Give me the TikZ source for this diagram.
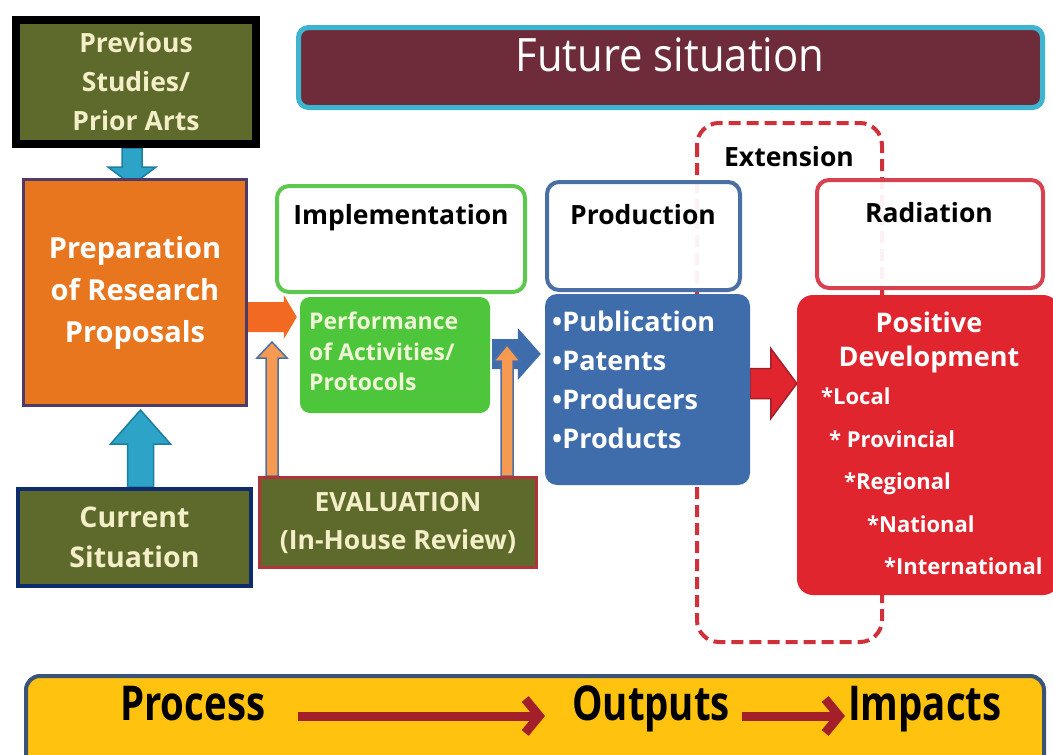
\documentclass[tikz,border=0pt]{standalone}
\usepackage{fontspec}
\setmainfont{Open Sans}
\usetikzlibrary{calc,arrows.meta}
\pgfdeclarelayer{bg}
\pgfsetlayers{bg,main}
\definecolor{cOlive}{HTML}{5D6A2C}
\definecolor{cCream}{HTML}{F4EFC8}
\definecolor{cOrange}{HTML}{E8761E}
\definecolor{cPurple}{HTML}{4E3B69}
\definecolor{cSky}{HTML}{2EA3C8}
\definecolor{cSkyDark}{HTML}{1E7EA2}
\definecolor{cNavy}{HTML}{0E2C6B}
\definecolor{cMaroon}{HTML}{6E2C3A}
\definecolor{cCyan}{HTML}{3DB5D0}
\definecolor{cGreenLine}{HTML}{5DC84E}
\definecolor{cGreen}{HTML}{4EC63C}
\definecolor{cPerfText}{HTML}{EEF6D6}
\definecolor{cOrangeArr}{HTML}{F26A22}
\definecolor{cLightOrange}{HTML}{F59A50}
\definecolor{cArrOutline}{HTML}{4D6FA8}
\definecolor{cBlue}{HTML}{3F6DAB}
\definecolor{cBlueLine}{HTML}{4A6FA5}
\definecolor{cRed}{HTML}{E1252F}
\definecolor{cRedLine}{HTML}{D8414F}
\definecolor{cRedDark}{HTML}{A3202A}
\definecolor{cEvalLine}{HTML}{B0343A}
\definecolor{cYellow}{HTML}{FFC20E}
\definecolor{cBannerLine}{HTML}{3A5378}
\definecolor{cDash}{HTML}{D0303A}

% horizontal block arrow: from, to, shaft half, head half, head length, style
\newcommand\hblockarrow[6]{%
  \path[#6] let \p1=(#1), \p2=(#2) in
    ({\x1},{\y1+#3}) -- ({\x2-#5},{\y1+#3}) -- ({\x2-#5},{\y1+#4}) -- ({\x2},{\y1})
    -- ({\x2-#5},{\y1-#4}) -- ({\x2-#5},{\y1-#3}) -- ({\x1},{\y1-#3}) -- cycle;}
% vertical block arrow: from, to, shaft half, head half, head length, style
\newcommand\vblockarrow[6]{%
  \path[#6] let \p1=(#1), \p2=(#2), \n1={ifthenelse(\y2>\y1,1,-1)} in
    ({\x1+#3},{\y1}) -- ({\x1+#3},{\y2-(\n1)*#5}) -- ({\x1+#4},{\y2-(\n1)*#5}) -- ({\x1},{\y2})
    -- ({\x1-#4},{\y2-(\n1)*#5}) -- ({\x1-#3},{\y2-(\n1)*#5}) -- ({\x1-#3},{\y1}) -- cycle;}

\begin{document}
\begin{tikzpicture}[x=1pt,y=-1pt,
  box/.style={rectangle, inner sep=0pt, align=center, font=\bfseries},
  olivebox/.style={box, fill=cOlive, text=cCream},
  headbox/.style={box, fill=white, fill opacity=0.94, text opacity=1, rounded corners=12pt, line width=4pt, text=black},
  headtext/.style={inner sep=0pt, text=black, font=\bfseries\fontsize{26.5}{30}\selectfont},
  skyarrow/.style={fill=cSky, draw=cSkyDark, line width=1.5pt},
  thinarrow/.style={fill=cLightOrange, draw=cArrOutline, line width=1.5pt},
  bararrow/.style={draw=cRedDark, line width=9pt, -{Straight Barb[length=14pt,width=34pt]}},
  bannertext/.style={inner sep=0pt, text=black, font=\bfseries\fontsize{48}{50}\selectfont},
]
\useasboundingbox (0,0) rectangle (1053,755);

% ---------- left column ----------
\node[olivebox, draw=black, line width=8pt, minimum width=240pt, minimum height=124pt,
      font=\bfseries\fontsize{26.5}{39}\selectfont] (prev) at (136,82) {Previous\\Studies/\\Prior Arts};
\node[box, fill=cOrange, draw=cPurple, line width=3pt, text=white, minimum width=223pt, minimum height=226pt,
      font=\bfseries\fontsize{29}{42}\selectfont] (prep) at (135,292.5) {Preparation\\of Research\\Proposals};
\node[olivebox, draw=cNavy, line width=4pt, minimum width=233pt, minimum height=97pt,
      font=\bfseries\fontsize{28.5}{40}\selectfont] (cur) at (134.5,537.5) {Current\\Situation};

% ---------- future banner ----------
\node[box, fill=cMaroon, draw=cCyan, line width=5pt, rounded corners=10pt, minimum width=744pt, minimum height=80pt] (future) at (670.5,67.5) {};
\node[inner sep=0pt, text=white, font=\fontsize{46}{50}\selectfont] (futuret) at (670,55) {\scalebox{0.91}[1]{Future situation}};

% ---------- implementation ----------
\node[headbox, draw=cGreenLine, minimum width=248pt, minimum height=106pt] (impl) at (401,239) {};
\node[headtext] (implt) at (401,218) {Implementation};
\node[box, fill=cGreen, rounded corners=10pt, minimum width=190pt, minimum height=116pt] (perf) at (395,355) {};
\node[inner sep=0pt, anchor=north west, align=left, text=cPerfText, font=\bfseries\fontsize{23}{30.5}\selectfont] (perft) at (309,312) {Performance\\of Activities/\\Protocols};
\node[olivebox, draw=cEvalLine, line width=3pt, minimum width=277pt, minimum height=90pt,
      font=\bfseries\fontsize{26.5}{38}\selectfont] (evalb) at (398,522.5) {EVALUATION\\(In-House Review)};

% ---------- production ----------
\node[headbox, draw=cBlueLine, minimum width=193pt, minimum height=108pt] (prodh) at (643.5,236) {};
\node[headtext] (prodt) at (643,215) {Production};
\node[box, fill=cBlue, rounded corners=12pt, minimum width=205pt, minimum height=191pt] (prodb) at (647.5,389.5) {};
\node[inner sep=0pt, anchor=north west, align=left, text=white, font=\bfseries\fontsize{27}{39}\selectfont] (prodl) at (552,311) {{\textbullet}Publication\\{\textbullet}Patents\\{\textbullet}Producers\\{\textbullet}Products};

% ---------- radiation ----------
\node[headbox, draw=cRedLine, minimum width=226pt, minimum height=108pt] (radh) at (930,234) {};
\node[headtext] (radt) at (929,213) {Radiation};
\node[box, fill=cRed, rounded corners=16pt, minimum width=262pt, minimum height=300pt] (posd) at (928,445) {};
\node[inner sep=0pt, align=center, text=white, font=\bfseries\fontsize{27}{34}\selectfont] (posdt) at (929,342) {Positive\\Development};
\node[inner sep=0pt, anchor=north west, align=left, text=white, font=\bfseries\fontsize{22}{42.5}\selectfont] (posdl) at (821,388)
  {*Local\\\hspace*{8pt}* Provincial\\\hspace*{23pt}*Regional\\\hspace*{46pt}*National\\\hspace*{63pt}*International};

% extension label
\node[headtext] (extt) at (789,157) {Extension};

% ---------- bottom banner ----------
\node[box, fill=cYellow, draw=cBannerLine, line width=4pt, rounded corners=14pt, minimum width=1018pt, minimum height=110pt] (banner) at (535,731) {};
\node[bannertext, anchor=base west] (proc) at (120,720) {\scalebox{0.8}[1]{Process}};
\node[bannertext, anchor=base west] (outp) at (572,720) {\scalebox{0.8}[1]{Outputs}};
\node[bannertext, anchor=base west] (impa) at (848,720) {\scalebox{0.8}[1]{Impacts}};
\draw[bararrow, shorten <=32pt, shorten >=27pt] ([yshift=4pt]proc.base east) -- ([yshift=4pt]outp.base west);
\draw[bararrow, shorten <=12pt, shorten >=3pt] ([yshift=4pt]outp.base east) -- ([yshift=4pt]impa.base west);

% ---------- background layer: dashed extension frame and block arrows ----------
\begin{pgfonlayer}{bg}
  \fill[white] (0,0) rectangle (1053,755);
  \draw[cDash, line width=4pt, dash pattern=on 12pt off 6pt, rounded corners=22pt] (697,123) rectangle (882,642);
  \vblockarrow{$(prev.south)+(-4,0)$}{$(prev.south)+(-4,37)$}{10pt}{24pt}{18pt}{skyarrow}
  \vblockarrow{$(cur.north)+(6,0)$}{$(prep.south)+(6,3)$}{13pt}{30pt}{34pt}{skyarrow}
  \hblockarrow{$(prep.east)+(0,24.5)$}{$(perf.west)+(-3,-38)$}{15pt}{22pt}{13pt}{fill=cOrangeArr}
  \hblockarrow{$(perf.east)+(2,-1)$}{$(prodb.west)+(-4,-36)$}{15pt}{26pt}{23pt}{fill=cBlue}
  \vblockarrow{$(evalb.north west)+(14,0)$}{$(perf.west)+(-28,-13)$}{6pt}{15pt}{16pt}{thinarrow}
  \vblockarrow{$(evalb.north east)+(-31,0)$}{$(perf.east)+(17,-10)$}{6pt}{13pt}{16pt}{thinarrow}
  \hblockarrow{$(prodb.east)+(0,-6)$}{$(posd.west)+(0,-62)$}{15pt}{35pt}{26pt}{fill=cRed, draw=cRedDark, line width=1.5pt}
\end{pgfonlayer}
\end{tikzpicture}
\end{document}
